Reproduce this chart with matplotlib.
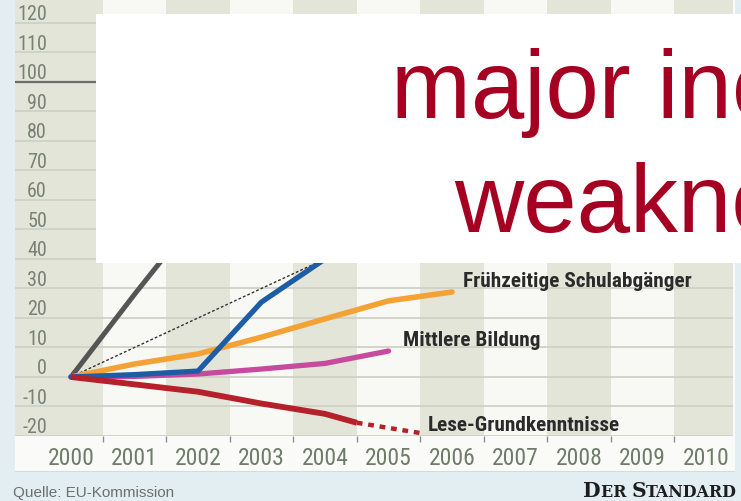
import matplotlib
matplotlib.use("Agg")
import matplotlib.pyplot as plt
from matplotlib.patches import Rectangle
from matplotlib.transforms import blended_transform_factory

# ---- data -------------------------------------------------------------
years = list(range(2000, 2011))
y_ticks = list(range(-20, 130, 10))

gray_years = [2000, 2001, 2002, 2003]
gray_vals = [0, 28, 55, 75]

bench_years = [2000, 2010]
bench_vals = [0, 100]

blue_years = [2000, 2001, 2002, 2003, 2004, 2005]
blue_vals = [0, 0.8, 2, 25.4, 40, 52]

orange_years = [2000, 2001, 2002, 2003, 2004, 2005, 2006]
orange_vals = [0, 4.4, 7.8, 13.5, 19.7, 25.8, 28.8]

pink_years = [2000, 2001, 2002, 2003, 2004, 2005]
pink_vals = [0, 0.2, 1, 2.7, 4.6, 8.8]

red_years = [2000, 2001, 2002, 2003, 2004, 2004.5]
red_vals = [0, -2.5, -5, -9, -12.5, -15.5]
red_proj_years = [2004.5, 2005.5]
red_proj_vals = [-15.5, -19]

labels = ["Frühzeitige Schulabgänger", "Mittlere Bildung", "Lese-Grundkenntnisse"]
label_x = [2006.17, 2005.23, 2005.62]
label_y = [30.7, 11.0, -17.8]

NARROW = ["Roboto Condensed", "Archivo Narrow", "PT Sans Narrow",
          "Liberation Sans Narrow", "DejaVu Sans"]

# ---- figure -----------------------------------------------------------
W, H = 741, 502
fig = plt.figure(figsize=(W / 100, H / 100), dpi=100)
fig.patch.set_facecolor("#e2eef2")


def fx(px):
    return px / W


def fy(py):
    return 1 - py / H


# light panel holding the chart and the year row
fig.patches.append(Rectangle((fx(15), fy(472)), fx(735) - fx(15), fy(0) - fy(472),
                             transform=fig.transFigure, facecolor="#fafbf8",
                             edgecolor="none", zorder=-2))

ax = fig.add_axes([fx(15), fy(437), fx(733) - fx(15), fy(0) - fy(437)])
ax.set_xlim(1999.118, 2010.425)
ax.set_ylim(-20, 128.1)
ax.set_facecolor("#f8f9f5")
for s in ax.spines.values():
    s.set_visible(False)

# alternating year columns
for yr in years:
    if yr % 2 == 0:
        left = 1999.118 if yr == 2000 else yr - 0.5
        ax.axvspan(left, yr + 0.5, color="#e3e5d9", lw=0, zorder=0)

# horizontal grid
for v in y_ticks:
    if v == 100:
        ax.axhline(v, color="#6c6e66", lw=1.6, zorder=1)
    else:
        ax.axhline(v, color="#cfd2c6", lw=1.3, zorder=1)

# y labels sit just above their grid line
ylab_tr = blended_transform_factory(ax.transAxes, ax.transData)
for v in y_ticks:
    ax.text((47 - 15) / 718, v + 3.1, str(v), transform=ylab_tr, ha="right",
            va="center", fontsize=14.5, family=NARROW,
            color="#7b8075", zorder=2)

# tick marks on year boundaries, no tick labels
ax.set_yticks([])
ax.set_xticks([yr + 0.5 for yr in years[:-1]])
ax.set_xticklabels([])
ax.tick_params(axis="x", direction="out", length=4, width=1, color="#8d9188")

# year labels below the plot
yr_tr = blended_transform_factory(ax.transData, fig.transFigure)
for yr in years:
    ax.text(yr, fy(465), str(yr), transform=yr_tr, ha="center", va="baseline",
            fontsize=17, family=NARROW, color="#6e7c68", clip_on=False)

# ---- series -----------------------------------------------------------
ax.plot(gray_years, gray_vals, color="#555555", lw=3.6, zorder=3,
        solid_capstyle="round")
ax.plot(bench_years, bench_vals, color="#333333", lw=1.0, zorder=3,
        linestyle=(0, (2, 1.5)))
ax.plot(orange_years, orange_vals, color="#f4a236", lw=4.0, zorder=4,
        solid_capstyle="round")
ax.plot(pink_years, pink_vals, color="#c84a9e", lw=3.8, zorder=5,
        solid_capstyle="round")
ax.plot(blue_years, blue_vals, color="#1d5da6", lw=3.8, zorder=6,
        solid_capstyle="round")
ax.plot(red_years, red_vals, color="#b5202b", lw=4.2, zorder=7,
        solid_capstyle="butt")
ax.plot(red_proj_years, red_proj_vals, color="#b5202b", lw=3.2, zorder=7,
        linestyle=(0, (1.3, 1.3)), dash_capstyle="butt")

for txt, lx, ly in zip(labels, label_x, label_y):
    ax.text(lx, ly, txt, ha="left", va="baseline", fontsize=15.3,
            family=NARROW, fontweight="bold", color="#2a2a2a", zorder=8)

# ---- overlay box with headline ---------------------------------------
fig.patches.append(Rectangle((fx(96), fy(264)), 1 - fx(96), fy(15) - fy(264),
                             transform=fig.transFigure, facecolor="white",
                             edgecolor="none", zorder=10))
fig.text(fx(391), fy(118), "major inc", ha="left", va="baseline", fontsize=69,
         family="Liberation Sans", color="#a50022", zorder=11)
fig.text(fx(454), fy(232), "weakne", ha="left", va="baseline", fontsize=69,
         family="Liberation Sans", color="#a50022", zorder=11)

# ---- footer -----------------------------------------------------------
fig.patches.append(Rectangle((fx(15), fy(473)), fx(735) - fx(15), 1 / H,
                             transform=fig.transFigure, facecolor="#d3dcdc",
                             edgecolor="none", zorder=-1))
fig.text(fx(13), fy(497), "Quelle: EU-Kommission", ha="left", va="baseline",
         fontsize=11, family="Liberation Sans", color="#6b716b")

# small-caps masthead built from alternating letter sizes
parts = [("D", 14.6), ("ER ", 11.4), ("S", 14.6), ("TANDARD", 11.4)]
base_y = fy(497)
prev = fig.text(fx(583), base_y, parts[0][0], ha="left", va="baseline",
                fontsize=parts[0][1], family="DejaVu Serif", fontweight="bold",
                color="#1e1e1e")
for txt, size in parts[1:]:
    prev = ax.annotate(txt, xy=(1, base_y), xycoords=(prev, fig.transFigure),
                       ha="left", va="baseline", fontsize=size,
                       family="DejaVu Serif", fontweight="bold",
                       color="#1e1e1e", annotation_clip=False)

fig.savefig("out.png", dpi=100, facecolor=fig.get_facecolor())
